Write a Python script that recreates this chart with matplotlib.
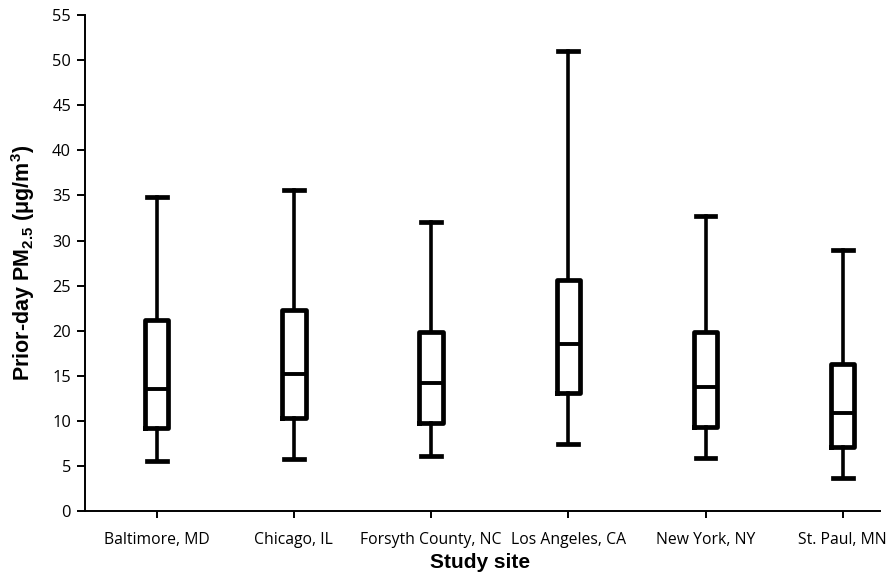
import matplotlib.pyplot as plt
import matplotlib

matplotlib.rcParams['mathtext.default'] = 'regular'

sites = ["Baltimore, MD", "Chicago, IL", "Forsyth County, NC",
         "Los Angeles, CA", "New York, NY", "St. Paul, MN"]
whislo = [5.5, 5.8, 6.1, 7.4, 5.9, 3.65]
q1 = [9.2, 10.3, 9.75, 13.1, 9.35, 7.1]
med = [13.5, 15.2, 14.2, 18.5, 13.7, 10.9]
q3 = [21.2, 22.3, 19.8, 25.6, 19.9, 16.3]
whishi = [34.8, 35.6, 32.1, 51.0, 32.7, 29.0]

stats = []
for i in range(len(sites)):
    stats.append(dict(label=sites[i], whislo=whislo[i], q1=q1[i],
                      med=med[i], q3=q3[i], whishi=whishi[i]))

fig = plt.figure(figsize=(8.89, 5.78), dpi=100)
ax = fig.add_axes([0.0956, 0.1159, 0.894, 0.858])

pos = list(range(len(sites)))
ax.bxp(stats, positions=pos, widths=0.17, capwidths=0.145, showfliers=False,
       boxprops=dict(color='black', linewidth=3.4),
       medianprops=dict(color='black', linewidth=2.8),
       whiskerprops=dict(color='black', linewidth=2.6),
       capprops=dict(color='black', linewidth=3.4))

ax.set_xlim(-0.523, 5.27)
ax.set_ylim(0, 55)
ax.set_yticks(range(0, 56, 5))
ax.set_xticks(pos)
ax.set_xticklabels(sites, fontfamily='Open Sans', fontsize=11.3)
for lab in ax.get_yticklabels():
    lab.set_fontfamily('Open Sans')
    lab.set_fontsize(11.8)

ax.spines['top'].set_visible(False)
ax.spines['right'].set_visible(False)
ax.spines['left'].set_linewidth(1.4)
ax.spines['bottom'].set_linewidth(1.4)
ax.tick_params(axis='y', direction='out', length=6, width=1.4, pad=4)
ax.tick_params(axis='x', direction='out', length=5, width=1.4, pad=10)

ax.set_xlabel("Study site", fontfamily='Liberation Sans', fontweight='bold',
              fontsize=15)
ax.set_ylabel(r"Prior-day PM$_{2.5}$ ($\mu$g/m$^{3}$)", fontfamily='Liberation Sans',
              fontweight='bold', fontsize=15.5)
ax.xaxis.set_label_coords(0.497, -0.085)
ax.yaxis.set_label_coords(-0.060, 0.5)

fig.savefig("out.png", dpi=100)
